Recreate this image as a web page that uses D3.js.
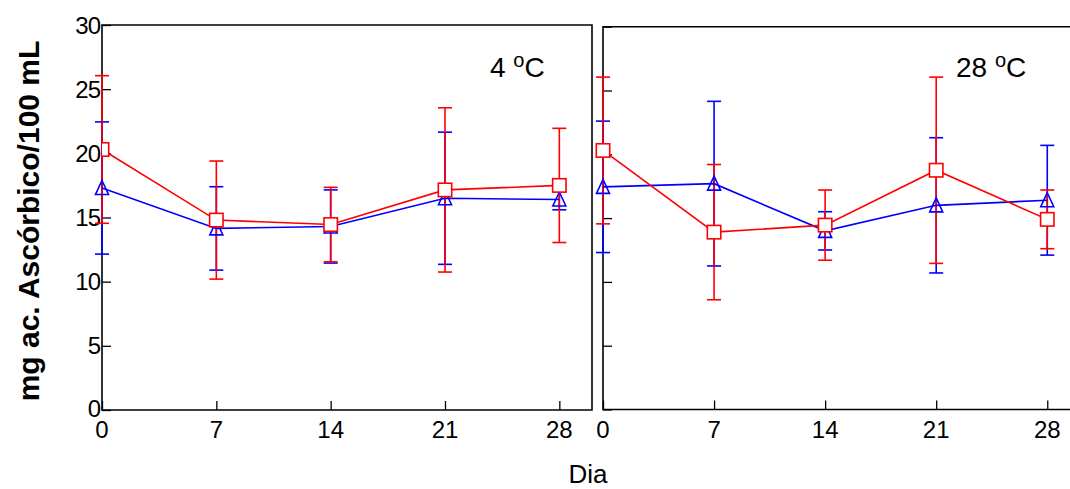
<!DOCTYPE html>
<html>
<head>
<meta charset="utf-8">
<script src="https://cdn.jsdelivr.net/npm/d3@7"></script>
<style>
  html, body { margin: 0; padding: 0; background: #fff; }
  svg { display: block; font-family: "Liberation Sans", Arial, Helvetica, sans-serif; }
</style>
</head>
<body>
<svg id="chart" width="1070" height="489"></svg>
<script>
// ---- data ----
const days = [0, 7, 14, 21, 28];
const xTicks = [0, 7, 14, 21, 28];
const yTicks = [0, 5, 10, 15, 20, 25, 30];
const panelTemps = ["4", "28"];

// 4 °C
const red4Mean  = [20.3, 14.8, 14.45, 17.15, 17.5];
const red4Err   = [5.75, 4.6, 2.9, 6.4, 4.45];
const blue4Mean = [17.3, 14.15, 14.3, 16.5, 16.4];
const blue4Err  = [5.15, 3.25, 2.85, 5.15, 0.8];

// 28 °C
const red28Mean  = [20.3, 13.9, 14.45, 18.75, 14.9];
const red28Err   = [5.75, 5.3, 2.75, 7.3, 2.3];
const blue28Mean = [17.45, 17.7, 14.0, 16.0, 16.4];
const blue28Err  = [5.15, 6.45, 1.5, 5.3, 4.3];

const yLabel = "mg ac. Ascórbico/100 mL";
const xLabel = "Dia";

// ---- drawing ----
const svg = d3.select("#chart");
const RED = "#ff0000", BLUE = "#0000ff";

const panels = [
  { temp: panelTemps[0], xr: [102, 592], yr: [410, 25], red: [red4Mean, red4Err], blue: [blue4Mean, blue4Err],
    yLabels: true, fullBox: true, labelX: 490 },
  { temp: panelTemps[1], xr: [603, 1079], yr: [409.5, 26.7], red: [red28Mean, red28Err], blue: [blue28Mean, blue28Err],
    yLabels: false, fullBox: false, labelX: 956 }
];

const defs = svg.append("defs");

panels.forEach((p, pi) => {
  const x = d3.scaleLinear().domain([0, 30]).range(p.xr);
  const y = d3.scaleLinear().domain([0, 30]).range(p.yr);
  const g = svg.append("g");

  // frame
  const [x0, x1] = p.xr, [yb, yt] = p.yr;
  g.append("path")
    .attr("d", p.fullBox
      ? `M${x0},${yt}H${x1}V${yb}H${x0}Z`
      : `M${x1},${yt}H${x0}V${yb}H${x1}`)
    .attr("fill", "none").attr("stroke", "#000").attr("stroke-width", 1.6);

  // axes with inward ticks
  const xAxis = d3.axisTop(x).tickValues(xTicks).tickSize(9).tickFormat("");
  g.append("g").attr("transform", `translate(0,${yb})`).call(xAxis)
    .call(s => s.select(".domain").remove())
    .call(s => s.selectAll("line").attr("stroke", "#000").attr("stroke-width", 1.3));
  const yAxis = d3.axisRight(y).tickValues(yTicks).tickSize(9).tickFormat("");
  g.append("g").attr("transform", `translate(${x0},0)`).call(yAxis)
    .call(s => s.select(".domain").remove())
    .call(s => s.selectAll("line").attr("stroke", "#000").attr("stroke-width", 1.3));

  // tick labels
  g.selectAll(".xl").data(xTicks).join("text")
    .attr("x", d => x(d)).attr("y", yb + 28)
    .attr("text-anchor", "middle").attr("font-size", 24).text(d => d);
  if (p.yLabels) {
    g.selectAll(".yl").data(yTicks).join("text")
      .attr("x", x0 - 2).attr("y", d => y(d)).attr("dy", d => d === 0 ? "0.28em" : "0.36em")
      .attr("text-anchor", "end").attr("font-size", 24).attr("letter-spacing", -1).text(d => d);
  }

  // panel label
  const t = g.append("text").attr("x", p.labelX).attr("y", 77).attr("font-size", 28);
  t.append("tspan").text(p.temp + " ");
  t.append("tspan").attr("dy", -10).attr("font-size", 20).text("o");
  t.append("tspan").attr("dy", 10).text("C");

  const line = d3.line().x((d, i) => x(days[i])).y(d => y(d));

  function errBars(mean, err, color) {
    const eg = g.append("g").attr("stroke", color).attr("stroke-width", 1.6).attr("fill", "none");
    days.forEach((d, i) => {
      const cx = x(d), top = y(mean[i] + err[i]), bot = y(mean[i] - err[i]);
      eg.append("line").attr("x1", cx).attr("x2", cx).attr("y1", top).attr("y2", bot);
      eg.append("line").attr("x1", cx - 7).attr("x2", cx + 7).attr("y1", top).attr("y2", top);
      eg.append("line").attr("x1", cx - 7).attr("x2", cx + 7).attr("y1", bot).attr("y2", bot);
    });
  }

  errBars(p.blue[0], p.blue[1], BLUE);
  errBars(p.red[0], p.red[1], RED);

  g.append("path").datum(p.blue[0]).attr("d", line)
    .attr("fill", "none").attr("stroke", BLUE).attr("stroke-width", 1.6);
  g.append("path").datum(p.red[0]).attr("d", line)
    .attr("fill", "none").attr("stroke", RED).attr("stroke-width", 1.6);

  // triangles (open)
  g.append("g").selectAll("path").data(p.blue[0]).join("path")
    .attr("d", (d, i) => {
      const cx = x(days[i]), cy = y(d);
      return `M${cx},${cy - 7.5}L${cx + 6.5},${cy + 6.5}L${cx - 6.5},${cy + 6.5}Z`;
    })
    .attr("fill", "none").attr("stroke", BLUE).attr("stroke-width", 1.6);

  // squares (white filled)
  const clipId = "clip" + pi;
  defs.append("clipPath").attr("id", clipId).append("rect")
    .attr("x", x0).attr("y", 0).attr("width", 1070).attr("height", 489);
  const sq = g.append("g");
  if (p.fullBox) sq.attr("clip-path", `url(#${clipId})`);
  sq.selectAll("rect").data(p.red[0]).join("rect")
    .attr("x", (d, i) => x(days[i]) - 6.7).attr("y", d => y(d) - 6.7)
    .attr("width", 13.4).attr("height", 13.4)
    .attr("fill", "#fff").attr("stroke", RED).attr("stroke-width", 1.6);
});

// axis titles
svg.append("text").attr("x", 588).attr("y", 483).attr("text-anchor", "middle")
  .attr("font-size", 26).text(xLabel);
svg.append("text")
  .attr("transform", "translate(39,221) rotate(-90)")
  .attr("text-anchor", "middle").attr("font-size", 30).attr("font-weight", "bold")
  .text(yLabel);
</script>
</body>
</html>
